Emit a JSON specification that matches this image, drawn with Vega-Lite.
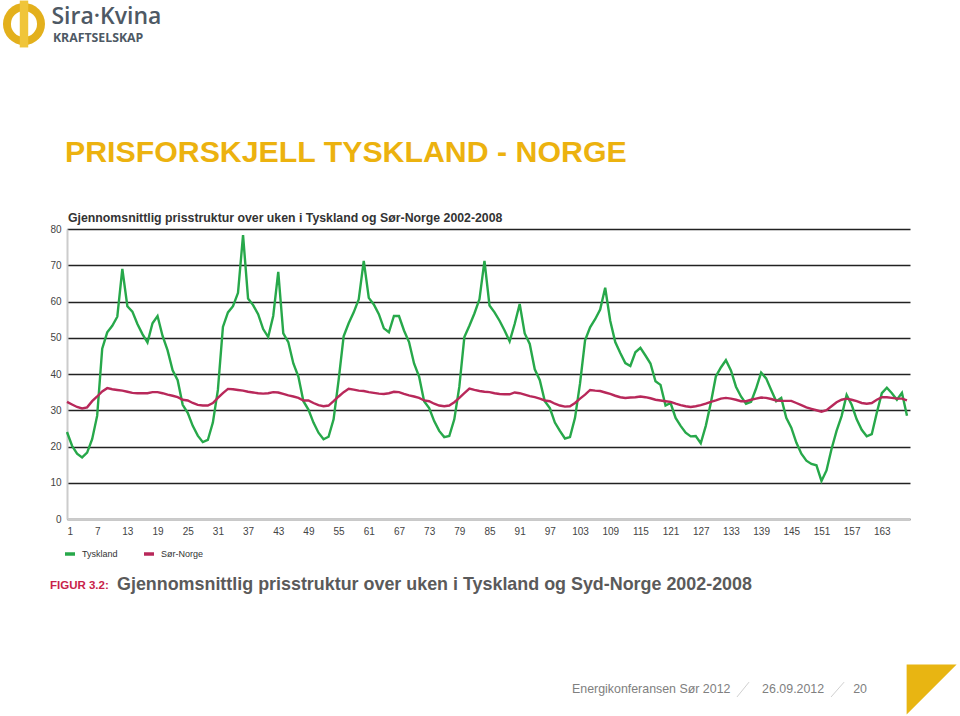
{
  "$schema": "https://vega.github.io/schema/vega-lite/v6.json",
  "width": 843,
  "height": 290,
  "autosize": {"type": "none"},
  "padding": {"left": 67, "top": 229, "right": 50, "bottom": 197},
  "background": "white",
  "config": {"view": {"stroke": null}},
  "datasets": {
    "prices": [
      {"h":1,"Tyskland":24,"Sør-Norge":32.3},{"h":2,"Tyskland":20.2,"Sør-Norge":31.6},{"h":3,"Tyskland":18,"Sør-Norge":30.9},{"h":4,"Tyskland":17,"Sør-Norge":30.5},{"h":5,"Tyskland":18.3,"Sør-Norge":30.8},{"h":6,"Tyskland":22,"Sør-Norge":32.5},{"h":7,"Tyskland":28.5,"Sør-Norge":33.8},{"h":8,"Tyskland":47,"Sør-Norge":35.2},{"h":9,"Tyskland":51.5,"Sør-Norge":36.1},{"h":10,"Tyskland":53.3,"Sør-Norge":35.8},
      {"h":11,"Tyskland":55.8,"Sør-Norge":35.6},{"h":12,"Tyskland":69,"Sør-Norge":35.4},{"h":13,"Tyskland":58.7,"Sør-Norge":35.1},{"h":14,"Tyskland":57.2,"Sør-Norge":34.8},{"h":15,"Tyskland":53.8,"Sør-Norge":34.7},{"h":16,"Tyskland":51,"Sør-Norge":34.7},{"h":17,"Tyskland":48.7,"Sør-Norge":34.7},{"h":18,"Tyskland":54,"Sør-Norge":35},{"h":19,"Tyskland":56,"Sør-Norge":35},{"h":20,"Tyskland":50.5,"Sør-Norge":34.7},
      {"h":21,"Tyskland":46.5,"Sør-Norge":34.3},{"h":22,"Tyskland":41,"Sør-Norge":34},{"h":23,"Tyskland":38.3,"Sør-Norge":33.6},{"h":24,"Tyskland":31.5,"Sør-Norge":32.9},{"h":25,"Tyskland":29.3,"Sør-Norge":32.7},{"h":26,"Tyskland":25.7,"Sør-Norge":32},{"h":27,"Tyskland":23,"Sør-Norge":31.5},{"h":28,"Tyskland":21.2,"Sør-Norge":31.3},{"h":29,"Tyskland":21.8,"Sør-Norge":31.3},{"h":30,"Tyskland":26.6,"Sør-Norge":32},
      {"h":31,"Tyskland":35.6,"Sør-Norge":33.4},{"h":32,"Tyskland":53,"Sør-Norge":34.7},{"h":33,"Tyskland":57,"Sør-Norge":35.9},{"h":34,"Tyskland":58.7,"Sør-Norge":35.8},{"h":35,"Tyskland":62.4,"Sør-Norge":35.6},{"h":36,"Tyskland":78.3,"Sør-Norge":35.4},{"h":37,"Tyskland":60.8,"Sør-Norge":35.1},{"h":38,"Tyskland":59,"Sør-Norge":34.9},{"h":39,"Tyskland":56.5,"Sør-Norge":34.7},{"h":40,"Tyskland":52.4,"Sør-Norge":34.6},
      {"h":41,"Tyskland":50.2,"Sør-Norge":34.7},{"h":42,"Tyskland":56,"Sør-Norge":35},{"h":43,"Tyskland":68.2,"Sør-Norge":34.9},{"h":44,"Tyskland":51.2,"Sør-Norge":34.5},{"h":45,"Tyskland":48.8,"Sør-Norge":34.1},{"h":46,"Tyskland":42.9,"Sør-Norge":33.8},{"h":47,"Tyskland":39.3,"Sør-Norge":33.4},{"h":48,"Tyskland":32.5,"Sør-Norge":32.7},{"h":49,"Tyskland":30.2,"Sør-Norge":32.7},{"h":50,"Tyskland":26.6,"Sør-Norge":32},
      {"h":51,"Tyskland":23.8,"Sør-Norge":31.4},{"h":52,"Tyskland":22,"Sør-Norge":31.1},{"h":53,"Tyskland":22.7,"Sør-Norge":31.3},{"h":54,"Tyskland":27.5,"Sør-Norge":32.5},{"h":55,"Tyskland":38.3,"Sør-Norge":33.8},{"h":56,"Tyskland":50.4,"Sør-Norge":35},{"h":57,"Tyskland":54,"Sør-Norge":35.9},{"h":58,"Tyskland":57,"Sør-Norge":35.7},{"h":59,"Tyskland":60.6,"Sør-Norge":35.4},{"h":60,"Tyskland":71.2,"Sør-Norge":35.3},
      {"h":61,"Tyskland":61,"Sør-Norge":35},{"h":62,"Tyskland":59.2,"Sør-Norge":34.8},{"h":63,"Tyskland":56.5,"Sør-Norge":34.6},{"h":64,"Tyskland":52.6,"Sør-Norge":34.5},{"h":65,"Tyskland":51.5,"Sør-Norge":34.7},{"h":66,"Tyskland":56,"Sør-Norge":35.1},{"h":67,"Tyskland":56,"Sør-Norge":35},{"h":68,"Tyskland":52,"Sør-Norge":34.5},{"h":69,"Tyskland":48.8,"Sør-Norge":34.1},{"h":70,"Tyskland":42.9,"Sør-Norge":33.8},
      {"h":71,"Tyskland":39.3,"Sør-Norge":33.4},{"h":72,"Tyskland":32.5,"Sør-Norge":32.7},{"h":73,"Tyskland":30.6,"Sør-Norge":32.5},{"h":74,"Tyskland":27,"Sør-Norge":31.8},{"h":75,"Tyskland":24.3,"Sør-Norge":31.3},{"h":76,"Tyskland":22.6,"Sør-Norge":31.1},{"h":77,"Tyskland":22.9,"Sør-Norge":31.3},{"h":78,"Tyskland":27.5,"Sør-Norge":32.2},{"h":79,"Tyskland":36.5,"Sør-Norge":33.4},{"h":80,"Tyskland":50.2,"Sør-Norge":34.7},
      {"h":81,"Tyskland":53.3,"Sør-Norge":36},{"h":82,"Tyskland":56.7,"Sør-Norge":35.6},{"h":83,"Tyskland":60.6,"Sør-Norge":35.3},{"h":84,"Tyskland":71.2,"Sør-Norge":35.1},{"h":85,"Tyskland":58.9,"Sør-Norge":35},{"h":86,"Tyskland":57,"Sør-Norge":34.7},{"h":87,"Tyskland":54.7,"Sør-Norge":34.5},{"h":88,"Tyskland":52,"Sør-Norge":34.4},{"h":89,"Tyskland":49,"Sør-Norge":34.4},{"h":90,"Tyskland":53.8,"Sør-Norge":34.9},
      {"h":91,"Tyskland":59.3,"Sør-Norge":34.7},{"h":92,"Tyskland":51.2,"Sør-Norge":34.3},{"h":93,"Tyskland":48.3,"Sør-Norge":33.9},{"h":94,"Tyskland":41.3,"Sør-Norge":33.6},{"h":95,"Tyskland":38.3,"Sør-Norge":33.2},{"h":96,"Tyskland":32.5,"Sør-Norge":32.7},{"h":97,"Tyskland":30.6,"Sør-Norge":32.5},{"h":98,"Tyskland":26.6,"Sør-Norge":31.8},{"h":99,"Tyskland":24.3,"Sør-Norge":31.3},{"h":100,"Tyskland":22.2,"Sør-Norge":31},
      {"h":101,"Tyskland":22.6,"Sør-Norge":31.1},{"h":102,"Tyskland":27.9,"Sør-Norge":32},{"h":103,"Tyskland":37.4,"Sør-Norge":33.2},{"h":104,"Tyskland":49.3,"Sør-Norge":34.3},{"h":105,"Tyskland":52.9,"Sør-Norge":35.6},{"h":106,"Tyskland":55.1,"Sør-Norge":35.4},{"h":107,"Tyskland":57.8,"Sør-Norge":35.3},{"h":108,"Tyskland":63.8,"Sør-Norge":34.9},{"h":109,"Tyskland":54.7,"Sør-Norge":34.5},{"h":110,"Tyskland":48.8,"Sør-Norge":34},
      {"h":111,"Tyskland":45.8,"Sør-Norge":33.6},{"h":112,"Tyskland":43,"Sør-Norge":33.4},{"h":113,"Tyskland":42.2,"Sør-Norge":33.5},{"h":114,"Tyskland":46,"Sør-Norge":33.6},{"h":115,"Tyskland":47.2,"Sør-Norge":33.8},{"h":116,"Tyskland":45.1,"Sør-Norge":33.6},{"h":117,"Tyskland":42.9,"Sør-Norge":33.3},{"h":118,"Tyskland":38,"Sør-Norge":32.9},{"h":119,"Tyskland":37,"Sør-Norge":32.7},{"h":120,"Tyskland":31.3,"Sør-Norge":32.5},
      {"h":121,"Tyskland":32,"Sør-Norge":32.3},{"h":122,"Tyskland":27.9,"Sør-Norge":31.8},{"h":123,"Tyskland":25.7,"Sør-Norge":31.4},{"h":124,"Tyskland":23.8,"Sør-Norge":31.1},{"h":125,"Tyskland":22.8,"Sør-Norge":30.9},{"h":126,"Tyskland":22.9,"Sør-Norge":31.1},{"h":127,"Tyskland":20.9,"Sør-Norge":31.4},{"h":128,"Tyskland":25.7,"Sør-Norge":31.8},{"h":129,"Tyskland":32,"Sør-Norge":32.3},{"h":130,"Tyskland":39.3,"Sør-Norge":32.7},
      {"h":131,"Tyskland":41.8,"Sør-Norge":33.2},{"h":132,"Tyskland":43.8,"Sør-Norge":33.4},{"h":133,"Tyskland":41,"Sør-Norge":33.2},{"h":134,"Tyskland":36.5,"Sør-Norge":32.9},{"h":135,"Tyskland":33.8,"Sør-Norge":32.5},{"h":136,"Tyskland":31.8,"Sør-Norge":32.5},{"h":137,"Tyskland":32.3,"Sør-Norge":32.9},{"h":138,"Tyskland":36,"Sør-Norge":33.2},{"h":139,"Tyskland":40.4,"Sør-Norge":33.5},{"h":140,"Tyskland":38.8,"Sør-Norge":33.4},
      {"h":141,"Tyskland":35.6,"Sør-Norge":33.1},{"h":142,"Tyskland":32.5,"Sør-Norge":32.7},{"h":143,"Tyskland":33.4,"Sør-Norge":32.6},{"h":144,"Tyskland":27.9,"Sør-Norge":32.6},{"h":145,"Tyskland":25.2,"Sør-Norge":32.6},{"h":146,"Tyskland":21.1,"Sør-Norge":32},{"h":147,"Tyskland":18,"Sør-Norge":31.4},{"h":148,"Tyskland":16.1,"Sør-Norge":30.8},{"h":149,"Tyskland":15.2,"Sør-Norge":30.4},{"h":150,"Tyskland":14.8,"Sør-Norge":30},
      {"h":151,"Tyskland":10.5,"Sør-Norge":29.6},{"h":152,"Tyskland":13.4,"Sør-Norge":30},{"h":153,"Tyskland":19.3,"Sør-Norge":31.1},{"h":154,"Tyskland":24.3,"Sør-Norge":32.2},{"h":155,"Tyskland":28.4,"Sør-Norge":32.9},{"h":156,"Tyskland":34.2,"Sør-Norge":33.2},{"h":157,"Tyskland":31.5,"Sør-Norge":32.9},{"h":158,"Tyskland":27.5,"Sør-Norge":32.5},{"h":159,"Tyskland":24.6,"Sør-Norge":32},{"h":160,"Tyskland":22.8,"Sør-Norge":31.8},
      {"h":161,"Tyskland":23.4,"Sør-Norge":32},{"h":162,"Tyskland":29.3,"Sør-Norge":32.9},{"h":163,"Tyskland":34.7,"Sør-Norge":33.6},{"h":164,"Tyskland":36.2,"Sør-Norge":33.6},{"h":165,"Tyskland":34.7,"Sør-Norge":33.4},{"h":166,"Tyskland":32.9,"Sør-Norge":33.2},{"h":167,"Tyskland":34.8,"Sør-Norge":33.2},{"h":168,"Tyskland":28.5,"Sør-Norge":32.7}
    ],
    "blank": [{}]
  },
  "layer": [
    {
      "data": {"name": "prices"},
      "transform": [{"fold": ["Tyskland", "Sør-Norge"], "as": ["serie", "pris"]}],
      "mark": {"type": "line", "strokeWidth": 2.4},
      "encoding": {
        "x": {
          "field": "h", "type": "quantitative",
          "scale": {"domain": [1, 168.6], "nice": false, "zero": false},
          "axis": {
            "values": [1,7,13,19,25,31,37,43,49,55,61,67,73,79,85,91,97,103,109,115,121,127,133,139,145,151,157,163],
            "tickCount": 200, "labelOverlap": false,
            "title": null, "grid": false, "ticks": false,
            "domainColor": "#cccccc", "domainWidth": 2, "zindex": 1,
            "labelFont": "Liberation Sans", "labelFontSize": 10, "labelColor": "#444444", "labelPadding": 7
          }
        },
        "y": {
          "field": "pris", "type": "quantitative",
          "scale": {"domain": [0, 80], "nice": false},
          "axis": {
            "values": [0,10,20,30,40,50,60,70,80],
            "tickCount": 100, "labelOverlap": false,
            "title": null, "grid": true, "gridColor": "#222222", "gridWidth": 1.4,
            "ticks": false, "domainColor": "#cccccc", "domainWidth": 2,
            "labelFont": "Liberation Sans", "labelFontSize": 10, "labelColor": "#444444", "labelPadding": 6
          }
        },
        "color": {
          "field": "serie", "type": "nominal",
          "scale": {"domain": ["Tyskland", "Sør-Norge"], "range": ["#27a84a", "#b8285a"]},
          "legend": {
            "title": null, "orient": "none", "legendX": -4, "legendY": 318, "direction": "horizontal",
            "symbolType": "stroke", "symbolStrokeWidth": 3.5, "symbolSize": 100,
            "labelFont": "Liberation Sans", "labelFontSize": 9, "labelColor": "#333333",
            "columnPadding": 19, "labelOffset": 5, "padding": 0
          }
        }
      }
    },
    {
      "data": {"name": "blank"},
      "mark": {"type": "text", "text": "PRISFORSKJELL TYSKLAND - NORGE", "align": "left", "baseline": "middle", "font": "Liberation Sans", "fontSize": 30.3, "fontWeight": "bold", "color": "#ecb20f"},
      "encoding": {
        "x": {"datum": 0.6, "type": "quantitative", "scale": {"domain": [1, 168.6], "nice": false, "zero": false}},
        "y": {"datum": 100.97, "type": "quantitative", "scale": {"domain": [0, 80], "nice": false}}
      }
    },
    {
      "data": {"name": "blank"},
      "mark": {"type": "text", "text": "Gjennomsnittlig prisstruktur over uken i Tyskland og Sør-Norge 2002-2008", "align": "left", "baseline": "middle", "font": "Liberation Sans", "fontSize": 12.3, "fontWeight": "bold", "color": "#333333"},
      "encoding": {
        "x": {"datum": 1.2, "type": "quantitative", "scale": {"domain": [1, 168.6], "nice": false, "zero": false}},
        "y": {"datum": 83.03, "type": "quantitative", "scale": {"domain": [0, 80], "nice": false}}
      }
    },
    {
      "data": {"name": "blank"},
      "mark": {"type": "point", "filled": true, "shape": "circle", "size": 1764, "color": "#e3b01c", "opacity": 1},
      "encoding": {
        "x": {"datum": -7.55, "type": "quantitative", "scale": {"domain": [1, 168.6], "nice": false, "zero": false}},
        "y": {"datum": 136.55, "type": "quantitative", "scale": {"domain": [0, 80], "nice": false}}
      }
    },
    {
      "data": {"name": "blank"},
      "mark": {"type": "point", "filled": true, "shape": "circle", "size": 680, "color": "#ffffff", "opacity": 1},
      "encoding": {
        "x": {"datum": -7.55, "type": "quantitative", "scale": {"domain": [1, 168.6], "nice": false, "zero": false}},
        "y": {"datum": 136.55, "type": "quantitative", "scale": {"domain": [0, 80], "nice": false}}
      }
    },
    {
      "data": {"name": "blank"},
      "mark": {"type": "point", "filled": true, "shape": "M-0.18,-1H0.18V1H-0.18Z", "size": 2200, "color": "#f0c53a", "opacity": 1},
      "encoding": {
        "x": {"datum": -7.55, "type": "quantitative", "scale": {"domain": [1, 168.6], "nice": false, "zero": false}},
        "y": {"datum": 136.55, "type": "quantitative", "scale": {"domain": [0, 80], "nice": false}}
      }
    },
    {
      "data": {"name": "blank"},
      "mark": {"type": "text", "text": "Sira·Kvina", "align": "left", "baseline": "middle", "font": "Open Sans", "fontSize": 23, "fontWeight": 600, "color": "#4e5964"},
      "encoding": {
        "x": {"datum": -2.1, "type": "quantitative", "scale": {"domain": [1, 168.6], "nice": false, "zero": false}},
        "y": {"datum": 138.6, "type": "quantitative", "scale": {"domain": [0, 80], "nice": false}}
      }
    },
    {
      "data": {"name": "blank"},
      "mark": {"type": "text", "text": "KRAFTSELSKAP", "align": "left", "baseline": "middle", "font": "Open Sans", "fontSize": 12.3, "fontWeight": "bold", "color": "#4e5964"},
      "encoding": {
        "x": {"datum": -1.8, "type": "quantitative", "scale": {"domain": [1, 168.6], "nice": false, "zero": false}},
        "y": {"datum": 132.6, "type": "quantitative", "scale": {"domain": [0, 80], "nice": false}}
      }
    },
    {
      "data": {"name": "blank"},
      "mark": {"type": "text", "text": "FIGUR 3.2:", "align": "left", "baseline": "middle", "font": "Liberation Sans", "fontSize": 11.5, "fontWeight": "bold", "color": "#c8234a"},
      "encoding": {
        "x": {"datum": -2.38, "type": "quantitative", "scale": {"domain": [1, 168.6], "nice": false, "zero": false}},
        "y": {"datum": -18.4, "type": "quantitative", "scale": {"domain": [0, 80], "nice": false}}
      }
    },
    {
      "data": {"name": "blank"},
      "mark": {"type": "text", "text": "Gjennomsnittlig prisstruktur over uken i Tyskland og Syd-Norge 2002-2008", "align": "left", "baseline": "middle", "font": "Liberation Sans", "fontSize": 17.9, "fontWeight": "bold", "color": "#5a5a5a"},
      "encoding": {
        "x": {"datum": 10.94, "type": "quantitative", "scale": {"domain": [1, 168.6], "nice": false, "zero": false}},
        "y": {"datum": -18.2, "type": "quantitative", "scale": {"domain": [0, 80], "nice": false}}
      }
    },
    {
      "data": {"name": "blank"},
      "mark": {"type": "text", "text": "Energikonferansen Sør 2012", "align": "left", "baseline": "middle", "font": "Liberation Sans", "fontSize": 12.4, "color": "#808080"},
      "encoding": {
        "x": {"datum": 101.4, "type": "quantitative", "scale": {"domain": [1, 168.6], "nice": false, "zero": false}},
        "y": {"datum": -46.9, "type": "quantitative", "scale": {"domain": [0, 80], "nice": false}}
      }
    },
    {
      "data": {"name": "blank"},
      "mark": {"type": "text", "text": "26.09.2012", "align": "left", "baseline": "middle", "font": "Liberation Sans", "fontSize": 12.4, "color": "#808080"},
      "encoding": {
        "x": {"datum": 139.2, "type": "quantitative", "scale": {"domain": [1, 168.6], "nice": false, "zero": false}},
        "y": {"datum": -46.9, "type": "quantitative", "scale": {"domain": [0, 80], "nice": false}}
      }
    },
    {
      "data": {"name": "blank"},
      "mark": {"type": "text", "text": "20", "align": "left", "baseline": "middle", "font": "Liberation Sans", "fontSize": 12.4, "color": "#808080"},
      "encoding": {
        "x": {"datum": 157.3, "type": "quantitative", "scale": {"domain": [1, 168.6], "nice": false, "zero": false}},
        "y": {"datum": -46.9, "type": "quantitative", "scale": {"domain": [0, 80], "nice": false}}
      }
    },
    {
      "data": {"name": "blank"},
      "mark": {"type": "rule", "color": "#d0d0d0", "strokeWidth": 1},
      "encoding": {
        "x": {"datum": 134.2, "type": "quantitative", "scale": {"domain": [1, 168.6], "nice": false, "zero": false}},
        "x2": {"datum": 136.6},
        "y": {"datum": -49.1, "type": "quantitative", "scale": {"domain": [0, 80], "nice": false}},
        "y2": {"datum": -45.0}
      }
    },
    {
      "data": {"name": "blank"},
      "mark": {"type": "rule", "color": "#d0d0d0", "strokeWidth": 1},
      "encoding": {
        "x": {"datum": 152.9, "type": "quantitative", "scale": {"domain": [1, 168.6], "nice": false, "zero": false}},
        "x2": {"datum": 155.5},
        "y": {"datum": -49.1, "type": "quantitative", "scale": {"domain": [0, 80], "nice": false}},
        "y2": {"datum": -45.0}
      }
    },
    {
      "data": {"name": "blank"},
      "mark": {"type": "point", "filled": true, "shape": "M-1,-1L1,-1L-1,1Z", "size": 2500, "color": "#e8b512", "opacity": 1},
      "encoding": {
        "x": {"datum": 172.9, "type": "quantitative", "scale": {"domain": [1, 168.6], "nice": false, "zero": false}},
        "y": {"datum": -47.0, "type": "quantitative", "scale": {"domain": [0, 80], "nice": false}}
      }
    }
  ]
}
